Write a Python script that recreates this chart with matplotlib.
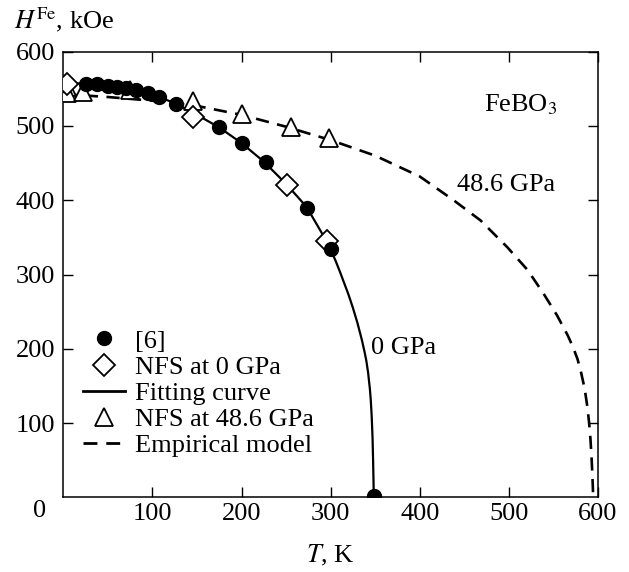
import matplotlib
matplotlib.use("Agg")
import matplotlib.pyplot as plt
from matplotlib.lines import Line2D

plt.rcParams['font.family'] = ['Liberation Serif', 'DejaVu Serif']
plt.rcParams['mathtext.fontset'] = 'stix'

# Hyperfine field of Fe in FeBO3 versus temperature
ref6_T = [25, 38, 50, 60, 70, 82, 95, 107, 127, 175, 201, 227, 273, 300, 349]
ref6_H = [557, 556, 554, 553, 551, 548, 544, 539, 530, 498, 477, 452, 390, 334, 2]

nfs0_T = [4, 146, 251, 296]
nfs0_H = [557, 512, 421, 345]

nfs48_T = [4, 4, 22, 75, 145, 200, 255, 298]
nfs48_H = [553, 545, 546, 548, 533, 516, 498, 484]

fit_T = [0, 25, 50, 75, 100, 125, 150, 175, 200, 225, 250, 273, 290, 300,
         305, 310, 315, 320, 325, 330, 335, 338, 340, 342, 344, 345, 346,
         347, 347.6, 348.1, 348.4]
fit_H = [558, 557, 554, 549, 542, 531, 515, 498, 477, 452, 422, 391, 356, 334,
         320, 305, 289, 273, 255, 235, 212, 196, 184, 168, 146, 131, 110,
         80, 50, 20, 0]

emp_T = [0, 50, 100, 150, 200, 250, 300, 350, 400, 438, 468, 498, 521, 539,
         554, 566, 572, 577, 581, 585, 588, 590, 591.5, 592.6, 593.5, 594.2,
         594.5]
emp_H = [543, 539, 534, 527, 515, 499, 481, 460, 432, 400, 373, 337, 306, 274,
         245, 218, 202, 186, 168, 146, 122, 100, 78, 56, 34, 12, 0]

tick_vals = [100, 200, 300, 400, 500, 600]
FS = 19

fig = plt.figure(figsize=(6.29, 5.72), dpi=100)
ax = fig.add_axes([0.1006, 0.1305, 0.8502, 0.7791])

ax.plot(fit_T, fit_H, color='black', lw=1.6, zorder=2)
ax.plot(emp_T, emp_H, color='black', lw=1.9, dashes=(5, 3.2), zorder=2)

ax.plot(nfs48_T, nfs48_H, ls='none', marker='^', ms=13, mfc='white',
        mec='black', mew=1.3, zorder=3)
ax.plot(nfs0_T, nfs0_H, ls='none', marker='D', ms=11, mfc='white',
        mec='black', mew=1.3, zorder=4)
ax.plot(ref6_T, ref6_H, ls='none', marker='o', ms=10, mfc='black',
        mec='black', zorder=5)

ax.set_xlim(0, 600)
ax.set_ylim(0, 600)
ax.set_xticks(tick_vals)
ax.set_yticks(tick_vals)
ax.set_xticklabels([str(v) for v in tick_vals])
ax.set_yticklabels([str(v) for v in tick_vals])
ax.tick_params(direction='in', length=7, width=1, top=True, right=True,
               labelsize=FS)
ax.tick_params(axis='x', pad=4)
ax.tick_params(axis='y', pad=6)
for s in ax.spines.values():
    s.set_linewidth(1.1)

ax.text(-0.045, -0.03, '0', transform=ax.transAxes, ha='center',
        va='center', fontsize=FS)

fig.text(0.022, 0.965, r'$H^{\mathrm{Fe}}$, kOe', ha='left', va='center',
         fontsize=FS)
ax.set_xlabel(r'$T$, K', fontsize=FS, labelpad=13)

ax.text(513, 528, r'FeBO$_3$', ha='center', va='center', fontsize=FS)
ax.text(442, 421, '48.6 GPa', ha='left', va='center', fontsize=FS)
ax.text(345, 201, '0 GPa', ha='left', va='center', fontsize=FS)

handles = [
    Line2D([], [], ls='none', marker='o', ms=10, mfc='black', mec='black'),
    Line2D([], [], ls='none', marker='D', ms=11, mfc='white', mec='black', mew=1.3),
    Line2D([], [], color='black', lw=2),
    Line2D([], [], ls='none', marker='^', ms=13, mfc='white', mec='black', mew=1.3),
    Line2D([], [], color='black', lw=2, dashes=(5, 3.2)),
]
labels = ['[6]', 'NFS at 0 GPa', 'Fitting curve', 'NFS at 48.6 GPa',
          'Empirical model']
ax.legend(handles, labels, loc='upper left', bbox_to_anchor=(0.012, 0.407),
          frameon=False, fontsize=FS, handlelength=1.6, handletextpad=0.38,
          labelspacing=0.1, borderpad=0.0)

fig.savefig('out.png', dpi=100)
